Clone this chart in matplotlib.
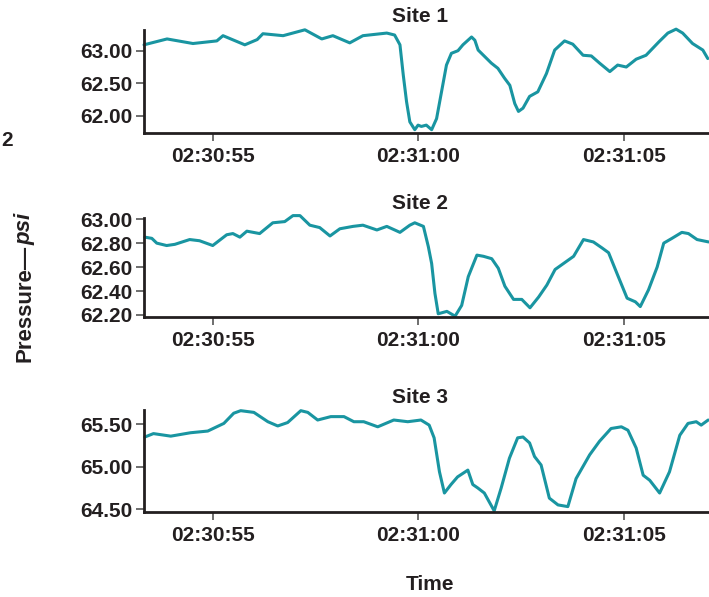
import matplotlib.pyplot as plt
from matplotlib.ticker import FixedLocator, FuncFormatter

# time in seconds after 02:30:00, pressure in psi
t1 = [53.33, 53.89, 54.52, 55.10, 55.25, 55.78, 56.08, 56.22, 56.71, 57.24, 57.65, 57.92,
      58.33, 58.65, 59.23, 59.42, 59.55, 59.63, 59.71, 59.79, 59.91, 59.99, 60.07, 60.19,
      60.32, 60.44, 60.56, 60.68, 60.80, 60.96, 61.08, 61.29, 61.37, 61.45, 61.61, 61.77,
      61.93, 62.09, 62.22, 62.34, 62.43, 62.54, 62.70, 62.90, 63.11, 63.31, 63.55, 63.75,
      64.00, 64.20, 64.40, 64.65, 64.84, 65.05, 65.29, 65.53, 65.85, 66.06, 66.26, 66.42,
      66.66, 66.91, 67.03]
p1 = [63.09, 63.18, 63.11, 63.15, 63.23, 63.09, 63.17, 63.26, 63.23, 63.32, 63.18, 63.23,
      63.12, 63.23, 63.27, 63.24, 63.09, 62.63, 62.22, 61.91, 61.79, 61.86, 61.84, 61.86,
      61.79, 61.96, 62.37, 62.78, 62.96, 63.00, 63.09, 63.21, 63.16, 63.01, 62.91, 62.81,
      62.73, 62.58, 62.47, 62.19, 62.07, 62.12, 62.30, 62.37, 62.65, 63.01, 63.15, 63.10,
      62.93, 62.92, 62.81, 62.68, 62.78, 62.75, 62.87, 62.93, 63.14, 63.27, 63.33, 63.27,
      63.11, 63.01, 62.88]

t2 = [53.35, 53.52, 53.64, 53.88, 54.08, 54.44, 54.68, 55.00, 55.34, 55.49, 55.66, 55.83,
      56.14, 56.46, 56.75, 56.95, 57.12, 57.36, 57.60, 57.85, 58.09, 58.41, 58.65, 58.99,
      59.23, 59.55, 59.79, 59.91, 60.12, 60.24, 60.32, 60.40, 60.48, 60.69, 60.89, 61.05,
      61.21, 61.42, 61.58, 61.78, 61.94, 62.10, 62.31, 62.51, 62.71, 62.92, 63.12, 63.32,
      63.77, 64.01, 64.25, 64.46, 64.62, 64.82, 65.07, 65.27, 65.39, 65.59, 65.80, 65.96,
      66.16, 66.40, 66.56, 66.77, 67.05]
p2 = [62.85, 62.84, 62.80, 62.78, 62.79, 62.83, 62.82, 62.78, 62.87, 62.88, 62.85, 62.90,
      62.88, 62.97, 62.98, 63.03, 63.03, 62.95, 62.93, 62.86, 62.92, 62.94, 62.95, 62.91,
      62.94, 62.89, 62.95, 62.97, 62.94, 62.77, 62.63, 62.38, 62.21, 62.23, 62.19, 62.28,
      62.52, 62.70, 62.69, 62.67, 62.59, 62.44, 62.33, 62.33, 62.26, 62.35, 62.45, 62.58,
      62.69, 62.83, 62.81, 62.76, 62.72, 62.55, 62.34, 62.31, 62.27, 62.41, 62.60, 62.80,
      62.84, 62.89, 62.88, 62.83, 62.81]

t3 = [53.35, 53.56, 53.98, 54.46, 54.88, 55.27, 55.51, 55.68, 56.00, 56.34, 56.58, 56.82,
      57.14, 57.31, 57.55, 57.87, 58.19, 58.43, 58.67, 59.01, 59.40, 59.74, 60.06, 60.26,
      60.38, 60.51, 60.63, 60.79, 60.95, 61.20, 61.32, 61.44, 61.60, 61.84, 62.01, 62.21,
      62.41, 62.54, 62.70, 62.82, 62.98, 63.18, 63.39, 63.63, 63.83, 64.16, 64.40, 64.68,
      64.93, 65.09, 65.29, 65.46, 65.62, 65.86, 66.10, 66.35, 66.55, 66.75, 66.87, 67.04]
p3 = [65.35, 65.39, 65.36, 65.40, 65.42, 65.51, 65.63, 65.66, 65.64, 65.53, 65.48, 65.52,
      65.66, 65.64, 65.55, 65.59, 65.59, 65.53, 65.53, 65.47, 65.55, 65.53, 65.55, 65.49,
      65.34, 64.94, 64.69, 64.79, 64.88, 64.96, 64.79, 64.75, 64.69, 64.48, 64.75, 65.10,
      65.34, 65.35, 65.28, 65.12, 65.02, 64.63, 64.55, 64.53, 64.86, 65.14, 65.30, 65.45,
      65.47, 65.43, 65.22, 64.90, 64.84, 64.69, 64.94, 65.37, 65.51, 65.53, 65.49, 65.55]

sites = ['Site 1', 'Site 2', 'Site 3']
yticks = [[62.0, 62.5, 63.0], [62.2, 62.4, 62.6, 62.8, 63.0], [64.5, 65.0, 65.5]]
ylims = [(61.744, 63.317), (62.183, 63.01), (64.47, 65.668)]
xticks = [55, 60, 65]

plt.rcParams['font.family'] = ['Liberation Sans', 'DejaVu Sans']
plt.rcParams['font.weight'] = 'bold'

W, H = 709, 597
fig = plt.figure(figsize=(W / 100, H / 100), dpi=100)

color = '#1995a1'
ink = '#231f20'
# axes boxes in pixels: left, top, bottom
boxes = [(144, 30, 132.7), (144, 218, 317), (144, 410, 511.7)]
title_y = [17, 204, 397.5]

for i, (t, p) in enumerate([(t1, p1), (t2, p2), (t3, p3)]):
    left, top, bot = boxes[i]
    ax = fig.add_axes([left / W, 1 - bot / H, (W - left) / W, (bot - top) / H])
    ax.plot(t, p, color=color, lw=2.2, clip_on=False,
            solid_joinstyle='round', solid_capstyle='round')
    ax.set_xlim(53.33, 67.06)
    ax.set_ylim(*ylims[i])
    ax.yaxis.set_major_locator(FixedLocator(yticks[i]))
    ax.yaxis.set_major_formatter(FuncFormatter(lambda v, pos: f'{v:.2f}'))
    ax.xaxis.set_major_locator(FixedLocator(xticks))
    ax.xaxis.set_major_formatter(
        FuncFormatter(lambda v, pos: f'02:{30 + int(round(v)) // 60:02d}:{int(round(v)) % 60:02d}'))
    for s in ['top', 'right']:
        ax.spines[s].set_visible(False)
    for s in ['left', 'bottom']:
        ax.spines[s].set_linewidth(2)
        ax.spines[s].set_color(ink)
    ax.tick_params(axis='both', length=6, width=1.2, color='#555555',
                   labelsize=15, labelcolor=ink, pad=2)
    ax.tick_params(axis='x', pad=4)
    for lab in ax.get_xticklabels() + ax.get_yticklabels():
        lab.set_fontweight('bold')
    fig.text(420 / W, 1 - title_y[i] / H, sites[i], ha='center', va='center',
             fontsize=15, fontweight='bold', color=ink)

# y label: "Pressure—" upright, "psi" italic
fig.canvas.draw()
r = fig.canvas.get_renderer()
ylab = fig.text(25 / W, 1 - 362 / H, 'Pressure\u2014', rotation=90, ha='center', va='bottom',
                fontsize=16, fontweight='bold', color=ink)
bb = ylab.get_window_extent(renderer=r)
fig.text(25 / W, bb.y1 / H, 'psi', rotation=90, ha='center', va='bottom',
         fontsize=16, fontweight='bold', style='italic', color=ink)

fig.text(430 / W, 1 - 585 / H, 'Time', ha='center', va='center',
         fontsize=15, fontweight='bold', color=ink)
fig.text(1 / W, 1 - 140 / H, '2', ha='left', va='center',
         fontsize=15, fontweight='bold', color=ink)

fig.savefig('out.png', dpi=100)
